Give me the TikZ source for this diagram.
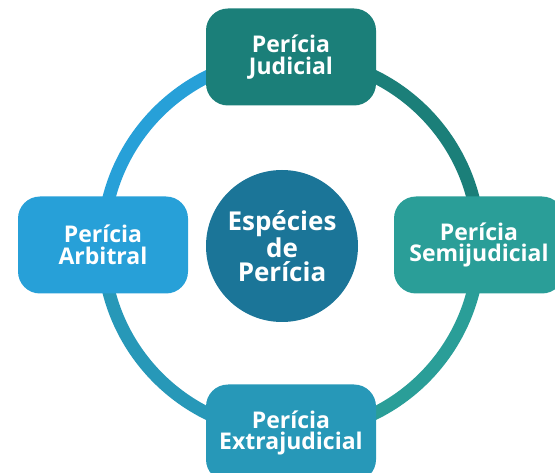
\documentclass[tikz,border=0pt]{standalone}
\usepackage{fontspec}
\setmainfont{Open Sans}
\usetikzlibrary{positioning,backgrounds}
\definecolor{perjud}{RGB}{27,127,121}
\definecolor{persemi}{RGB}{42,158,152}
\definecolor{perextra}{RGB}{39,152,184}
\definecolor{perarb}{RGB}{39,160,216}
\definecolor{permid}{RGB}{27,117,152}

\begin{document}
\begin{tikzpicture}[x=1pt, y=1pt,
  kind/.style={rounded corners=22pt, minimum width=170pt, minimum height=97pt, inner sep=2pt,
    text=white, align=center, font=\fontsize{23}{21.5}\selectfont\bfseries},
  ring/.style={line width=13pt}]
  \useasboundingbox (0,0) rectangle (555,472);
  \coordinate (mid) at (291,227);

  % the four kinds around the ring
  \node[kind, fill=perjud] (jud) at ([shift={(90:188)}]mid) {Perícia\\Judicial};
  \node[kind, fill=persemi] (semi) at ([shift={(0:188)}]mid) {Perícia\\Semijudicial};
  \node[kind, fill=perextra] (extra) at ([shift={(270:188)}]mid) {Perícia\\Extrajudicial};
  \node[kind, fill=perarb] (arb) at ([shift={(180:188)}]mid) {Perícia\\Arbitral};

  \node[circle, fill=permid, minimum size=152pt, inner sep=0pt, text=white, align=center,
    font=\fontsize{26}{24}\selectfont\bfseries] (centre) at (282,226) {Espécies\\de\\Perícia};

  % ring pieces, clockwise
  \begin{scope}[on background layer]
    \draw[ring, perjud] (jud.center) arc[start angle=90, end angle=0, radius=188];
    \draw[ring, persemi] (semi.center) arc[start angle=0, end angle=-90, radius=188];
    \draw[ring, perextra] (extra.center) arc[start angle=270, end angle=180, radius=188];
    \draw[ring, perarb] (arb.center) arc[start angle=180, end angle=90, radius=188];
  \end{scope}
\end{tikzpicture}
\end{document}
